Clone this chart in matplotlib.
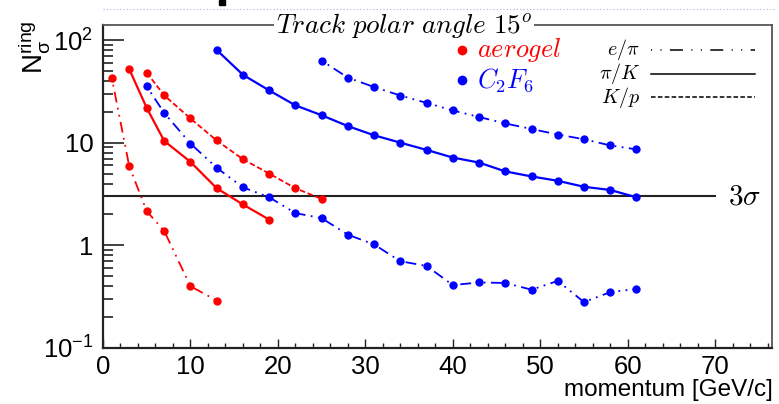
import matplotlib
matplotlib.use("Agg")
import matplotlib.pyplot as plt
from matplotlib.ticker import FixedLocator, MultipleLocator, LogLocator, NullFormatter
from matplotlib.lines import Line2D
from matplotlib.patches import Rectangle

plt.rcParams['font.family'] = ['Liberation Sans', 'DejaVu Sans']
plt.rcParams['mathtext.fontset'] = 'custom'
plt.rcParams['mathtext.rm'] = 'Liberation Sans'
plt.rcParams['mathtext.it'] = 'Liberation Sans:italic'

# ---------------- data ----------------
aer_epi_x = [1, 3, 5, 7, 10, 13]
aer_epi_y = [43, 5.9, 2.15, 1.38, 0.40, 0.29]
aer_piK_x = [3, 5, 7, 10, 13, 16, 19]
aer_piK_y = [52, 21.8, 10.4, 6.5, 3.6, 2.5, 1.78]
aer_Kp_x = [5, 7, 10, 13, 16, 19, 22, 25]
aer_Kp_y = [48, 28.9, 17.2, 10.5, 6.9, 5.0, 3.6, 2.83]

c2f6_epi_x = [5, 7, 10, 13, 16, 19, 22, 25, 28, 31, 34, 37, 40, 43, 46, 49, 52, 55, 58, 61]
c2f6_epi_y = [35.3, 19.5, 9.8, 5.7, 3.67, 2.94, 2.06, 1.84, 1.27, 1.02, 0.70, 0.63,
              0.41, 0.435, 0.43, 0.37, 0.45, 0.28, 0.35, 0.376]
c2f6_piK_x = [13, 16, 19, 22, 25, 28, 31, 34, 37, 40, 43, 46, 49, 52, 55, 58, 61]
c2f6_piK_y = [80, 45.8, 32.3, 23.1, 18.5, 14.5, 11.8, 10.0, 8.5, 7.16, 6.4, 5.25,
              4.69, 4.25, 3.72, 3.46, 2.94]
c2f6_Kp_x = [25, 28, 31, 34, 37, 40, 43, 46, 49, 52, 55, 58, 61]
c2f6_Kp_y = [63, 43, 34.8, 28.8, 24.4, 20.6, 17.8, 15.4, 13.6, 12.0, 10.8, 9.4, 8.6]

threshold = 3
threshold_xmax = 70

xticks = [0, 10, 20, 30, 40, 50, 60, 70]
yticks = [0.1, 1, 10, 100]
ytick_labels = [r'$\mathregular{10^{-1}}$', '1', '10', r'$\mathregular{10^{2}}$']

title = r'$Track\ polar\ angle\ 15^{o}$'
radiators = [r'$aerogel$', r'$C_2F_6$']
radiator_colors = ['#ff0000', '#0000ff']
pairs = [r'$e/\pi$', r'$\pi/K$', r'$K/p$']

# ---------------- styles ----------------
ls_epi = (0, (0.7, 5.5, 0.7, 5.5, 8.5, 5.5))
ls_piK = '-'
ls_Kp = (0, (3, 1.5))
styles = [ls_epi, ls_piK, ls_Kp]
ls_epi_plot = (0, (1, 3, 1, 3, 6, 3))

W, H = 779, 404
fig = plt.figure(figsize=(W / 100, H / 100), dpi=100)
ax = fig.add_axes([103 / W, 1 - 348 / H, (772 - 103) / W, (348 - 25) / H])
ax.set_yscale('log')
ax.set_xlim(0, 76.5)
ax.set_ylim(0.1, 140)

series = [
    (aer_epi_x, aer_epi_y, radiator_colors[0], ls_epi_plot, 1.3),
    (aer_piK_x, aer_piK_y, radiator_colors[0], ls_piK, 1.6),
    (aer_Kp_x, aer_Kp_y, radiator_colors[0], ls_Kp, 1.3),
    (c2f6_epi_x, c2f6_epi_y, radiator_colors[1], ls_epi_plot, 1.3),
    (c2f6_piK_x, c2f6_piK_y, radiator_colors[1], ls_piK, 1.6),
    (c2f6_Kp_x, c2f6_Kp_y, radiator_colors[1], ls_epi_plot, 1.3),
]
for xs, ys, c, ls, lw in series:
    ax.plot(xs, ys, color=c, linestyle=ls, linewidth=lw, marker='o',
            markersize=6, markeredgewidth=0, zorder=4)

ax.plot([0, threshold_xmax], [threshold, threshold], color='#222222', lw=1.5, zorder=3)
ax.text(73.4, threshold, r'$3\sigma$', fontsize=21, ha='center', va='center',
        math_fontfamily='cm')

# ticks
ax.xaxis.set_major_locator(FixedLocator(xticks))
ax.xaxis.set_minor_locator(MultipleLocator(2))
ax.yaxis.set_major_locator(FixedLocator(yticks))
ax.set_yticklabels(ytick_labels)
ax.yaxis.set_minor_locator(LogLocator(base=10, subs=range(2, 10)))
ax.yaxis.set_minor_formatter(NullFormatter())
ax.tick_params(axis='both', which='both', direction='in', colors='#222222',
               labelcolor='black', labelsize=18.5, top=False, right=False)
ax.tick_params(axis='y', which='major', length=15, width=1.2, pad=7)
ax.tick_params(axis='y', which='minor', length=7.5, width=1.2)
ax.tick_params(axis='x', which='major', length=6.5, width=1.0, pad=5)
ax.tick_params(axis='x', which='minor', length=3.6, width=1.0)

for s in ['left', 'bottom']:
    ax.spines[s].set_linewidth(1.6)
    ax.spines[s].set_color('#222222')
for s in ['top', 'right']:
    ax.spines[s].set_linewidth(1.3)
    ax.spines[s].set_color('#555555')

# axis titles
fig.text(773 / W, 1 - 390 / H, 'momentum [GeV/c]', ha='right', va='center', fontsize=17.5)
fig.text(35 / W, 1 - 20 / H, r'$\mathregular{N_{\sigma}^{ring}}$', rotation=90,
         ha='center', va='top', fontsize=20)

# title over top frame
ax.text(0.45, 1.0, title, transform=ax.transAxes, ha='center', va='center',
        fontsize=19.5, math_fontfamily='cm', zorder=10,
        bbox=dict(facecolor='white', edgecolor='none', pad=1))

# legend: radiators
for i, (lab, c) in enumerate(zip(radiators, radiator_colors)):
    yy = 1 - (50 + 30 * i) / H
    fig.add_artist(Line2D([462 / W], [yy], marker='o', color=c, markersize=7,
                          markeredgewidth=0, linestyle='none'))
    fig.text(477 / W, yy, lab, color=c, fontsize=19, ha='left', va='center',
             math_fontfamily='cm')

# legend: pairs
for i, (lab, ls) in enumerate(zip(pairs, styles)):
    yy = 1 - (50 + 23.5 * i) / H
    fig.text(640 / W, yy, lab, fontsize=14.5, ha='right', va='center', math_fontfamily='cm')
    fig.add_artist(Line2D([651 / W, 755 / W], [yy, yy], color='black',
                          linestyle=ls, linewidth=1.1))

# top decorations
fig.add_artist(Line2D([103 / W, 775 / W], [1 - 9 / H, 1 - 9 / H], color='#aab0f0',
                      linestyle=(0, (1, 2)), linewidth=0.8))
fig.add_artist(Rectangle((219 / W, 1 - 5 / H), 6 / W, 5 / H, color='black',
                         transform=fig.transFigure))

fig.savefig('out.png', dpi=100)
